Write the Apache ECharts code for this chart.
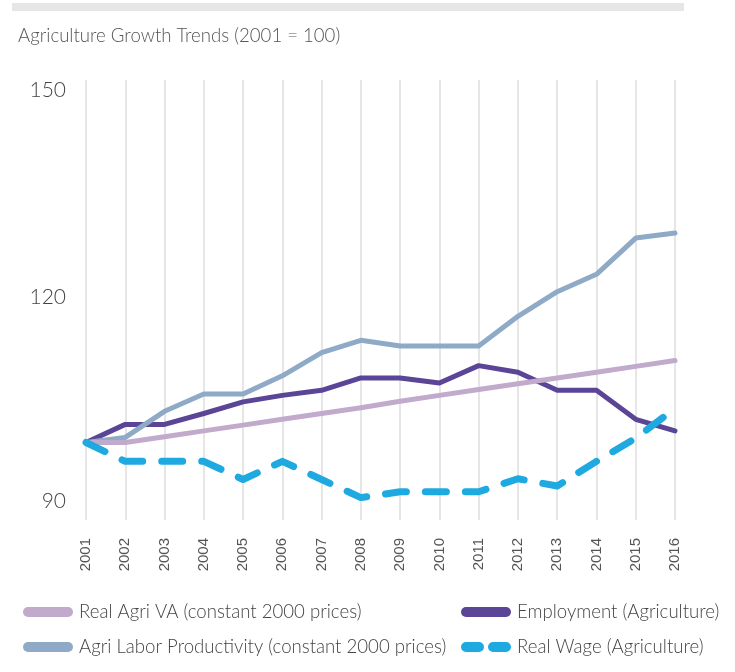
<!DOCTYPE html>
<html>
<head>
<meta charset="utf-8">
<script src="https://cdn.jsdelivr.net/npm/echarts@6/dist/echarts.min.js"></script>
<style>html,body{margin:0;padding:0;background:#fff}#c{width:735px;height:672px}</style>
</head>
<body>
<div id="c"></div>
<script>
const years = ['2001','2002','2003','2004','2005','2006','2007','2008','2009','2010','2011','2012','2013','2014','2015','2016'];
const realAgriVA = [100,100,100.8,101.6,102.4,103.2,104.0,104.8,105.7,106.5,107.3,108.1,108.9,109.7,110.5,111.3];
const employment = [100,102.5,102.5,104.0,105.6,106.5,107.2,108.9,108.9,108.2,110.6,109.7,107.2,107.2,103.2,101.6];
const productivity = [100,100.7,104.3,106.7,106.7,109.2,112.4,114.1,113.3,113.3,113.3,117.4,120.8,123.2,128.2,128.9];
const realWage = [100,97.4,97.4,97.4,94.9,97.4,94.9,92.4,93.2,93.2,93.2,95.0,94.0,97.4,100.6,104.7];
const yTicks = {min:90, max:150, interval:30};

const names = {
  va: 'Real Agri VA (constant 2000 prices)',
  emp: 'Employment (Agriculture)',
  prod: 'Agri Labor Productivity (constant 2000 prices)',
  wage: 'Real Wage (Agriculture)'
};
const colors = {va:'#c1aacb', emp:'#5a4596', prod:'#8eaac6', wage:'#1fa9e1'};
const pill = 'path://M5,0 H45 A5,5 0 0 1 45,10 H5 A5,5 0 0 1 5,0 Z';
const dashPill = 'path://M5,0 H18 A5,5 0 0 1 18,10 H5 A5,5 0 0 1 5,0 Z M32,0 H45 A5,5 0 0 1 45,10 H32 A5,5 0 0 1 32,0 Z';
const FONT = 'Lato, "Open Sans", sans-serif';

const chart = echarts.init(document.getElementById('c'), null, {renderer:'canvas'});
function lineSeries(key, data, extra) {
  return Object.assign({
    name: names[key], type:'line', data: data, symbol:'none', smooth:false,
    itemStyle:{color:colors[key]},
    lineStyle:{color:colors[key], width:5, cap:'round', join:'round'},
    emphasis:{disabled:true}
  }, extra || {});
}
const legendText = {color:'#444', fontSize:18.6, fontFamily:FONT, fontWeight:300, lineHeight:20, padding:[0,0,0,1]};
chart.setOption({
  animation:false,
  backgroundColor:'#fff',
  title:{text:'Agriculture Growth Trends (2001 = 100)', left:13, top:21,
    textStyle:{color:'#555', fontSize:18.6, fontWeight:300, fontFamily:FONT}},
  graphic:[{type:'rect', left:12, top:3, shape:{width:672, height:8}, style:{fill:'#e6e6e6'}}],
  grid:{left:86, right:60, top:80, bottom:157, containLabel:false},
  xAxis:{type:'category', data:years, boundaryGap:false,
    axisLine:{show:false},
    axisTick:{show:true, length:5, lineStyle:{color:'#e6e6e6', width:2}},
    splitLine:{show:true, lineStyle:{color:'#e6e6e6', width:2}},
    axisLabel:{rotate:90, margin:23, color:'#555', fontSize:15, fontFamily:'"Liberation Sans", Arial, sans-serif'}},
  yAxis:{type:'value', min:yTicks.min, max:yTicks.max, interval:yTicks.interval,
    axisLine:{show:false}, axisTick:{show:false}, splitLine:{show:false},
    axisLabel:{margin:20, color:'#444', fontSize:21, fontFamily:FONT,
      formatter:function(v){
        if (v === yTicks.max) return '{top|' + v + '}';
        if (v === yTicks.min) return '{bot|' + v + '}';
        return '{mid|' + v + '}';
      },
      rich:{
        top:{fontSize:21, fontFamily:FONT, fontWeight:300, color:'#444', padding:[20,0,0,0]},
        bot:{fontSize:21, fontFamily:FONT, fontWeight:300, color:'#444', padding:[0,0,28,0]},
        mid:{fontSize:21, fontFamily:FONT, fontWeight:300, color:'#444'}
      }}},
  legend:[
    {orient:'vertical', left:18, top:597, itemWidth:50, itemHeight:10, itemGap:15,
      data:[{name:names.va, icon:pill},{name:names.prod, icon:pill}], textStyle:legendText,
      selectedMode:false},
    {orient:'vertical', left:456, top:597, itemWidth:50, itemHeight:10, itemGap:15,
      data:[{name:names.emp, icon:pill},{name:names.wage, icon:dashPill}], textStyle:legendText,
      selectedMode:false}
  ],
  series:[
    lineSeries('emp', employment),
    lineSeries('prod', productivity),
    lineSeries('va', realAgriVA),
    lineSeries('wage', realWage, {lineStyle:{color:colors.wage, width:7, cap:'round', join:'round', type:[21,19]}})
  ]
});
</script>
</body>
</html>
